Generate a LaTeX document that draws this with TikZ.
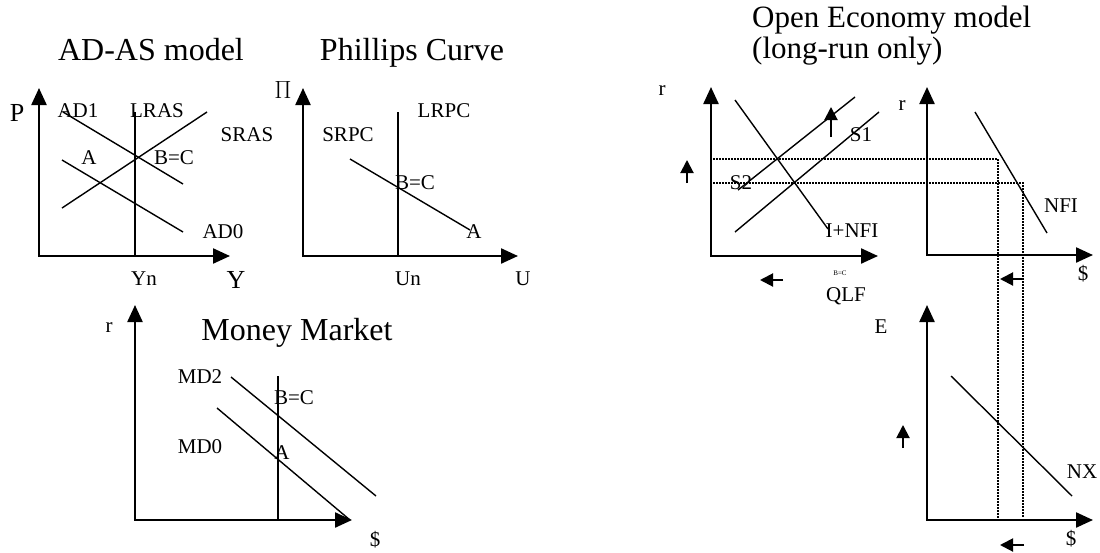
\documentclass[tikz,border=0pt]{standalone}
\usepackage{fontspec}
\setmainfont{Liberation Serif}
\usetikzlibrary{arrows.meta}

\begin{document}
\begin{tikzpicture}[
  x=1pt, y=-1pt,
  axes/.style={line width=2.3pt,
               {Triangle[length=17pt, width=15pt]}-{Triangle[length=17pt, width=15pt]}},
  econ/.style={line width=1.4pt},
  dots/.style={line width=1.2pt, dash pattern=on 1.5pt off 1.5pt},
  move/.style={line width=2pt, -{Triangle[length=13pt, width=13pt]}},
  lbl/.style={inner sep=0pt, font=\fontsize{21}{24}\selectfont},
  big/.style={inner sep=0pt, font=\fontsize{26}{30}\selectfont},
  ttl/.style={inner sep=0pt, anchor=base, font=\fontsize{32}{36}\selectfont},
]
\useasboundingbox (0,0) rectangle (1100,552);

% AD-AS model
\node[ttl] (adastitle) at (151,60) {AD-AS model};
\draw[axes] (39,88) |- (230,256);
\draw[econ] (135,112) -- (135,256);
\draw[econ] (62,208) -- (207,112);
\draw[econ] (63,112) -- (183,184);
\draw[econ] (62,160) -- (183,232);
\node[big] (p) at (17,113) {P};
\node[big] (y) at (236,280) {Y};
\node[lbl] (ad1) at (78,111) {AD1};
\node[lbl] (lras) at (157,111) {LRAS};
\node[lbl] (sras) at (247,135) {SRAS};
\node[lbl] (adA) at (89,158) {A};
\node[lbl] (adBC) at (174,158) {B=C};
\node[lbl] (ad0) at (223,232) {AD0};
\node[lbl] (yn) at (144,279) {Yn};

% Phillips curve
\node[ttl] (pctitle) at (412,60) {Phillips Curve};
\draw[axes] (303,88) |- (518,256);
\draw[econ] (398,112) -- (398,256);
\draw[econ] (350,159) -- (470,230);
\node[inner sep=0pt, font=\fontsize{24}{28}\selectfont] (pi) at (283,90) {$\Pi$};
\node[lbl] (lrpc) at (444,111) {LRPC};
\node[lbl] (srpc) at (348,135) {SRPC};
\node[lbl] (pcBC) at (415,183) {B=C};
\node[lbl] (pcA) at (474,232) {A};
\node[lbl] (un) at (408,279) {Un};
\node[lbl] (u) at (523,279) {U};

% money market
\node[ttl] (mmtitle) at (297,340) {Money Market};
\draw[axes] (135,305) |- (352,520);
\draw[econ] (278,376) -- (278,520);
\draw[econ] (231,377) -- (376,496);
\draw[econ] (217,408) -- (350,520);
\node[lbl] (mmr) at (109,328) {r};
\node[lbl] (md2) at (200,377) {MD2};
\node[lbl] (md0) at (200,447) {MD0};
\node[lbl] (mmBC) at (294,398) {B=C};
\node[lbl] (mmA) at (282,453) {A};
\node[lbl] (mmd) at (375,540) {\$};

% open economy: loanable funds
\node[ttl, anchor=base west, font=\fontsize{31}{34}\selectfont] (oetitle) at (752,27) {Open Economy model};
\node[ttl, anchor=base west, font=\fontsize{31}{34}\selectfont] (oesub) at (752,58) {(long-run only)};
\draw[axes] (711,87) |- (878,256);
\draw[econ] (738,190) -- (855,97);
\draw[econ] (735,232) -- (879,112);
\draw[econ] (735,100) -- (828,229);
\node[lbl] (lfr) at (662,91) {r};
\node[lbl] (s1) at (861,135) {S1};
\node[lbl] (s2) at (741,183) {S2};
\node[lbl] (inv) at (852,231) {I+NFI};
\node[inner sep=0pt, font=\fontsize{7}{8}\selectfont] (lfBC) at (840,273) {B=C};
\node[lbl] (qlf) at (846,296) {QLF};

% NFI panel
\draw[axes] (927,87) |- (1093,255);
\draw[econ] (975,112) -- (1047,233);
\node[lbl] (nfir) at (902,106) {r};
\node[lbl] (nfi) at (1061,206) {NFI};
\node[lbl] (nfid) at (1083,274) {\$};

% NX panel
\draw[axes] (927,305) |- (1093,520);
\draw[econ] (951,376) -- (1072,496);
\node[lbl] (e) at (881,327) {E};
\node[lbl] (nx) at (1082,472) {NX};
\node[lbl] (nxd) at (1071,539) {\$};

% dotted guides
\draw[dots] (713,159) -| (998,518);
\draw[dots] (713,183) -| (1023,518);

% shifts
\draw[move] (831,137) -- (831,107);
\draw[move] (687,183) -- (687,160);
\draw[move] (783,280) -- (760,280);
\draw[move] (1024,279) -- (1000,279);
\draw[move] (903,448) -- (903,425);
\draw[move] (1024,545) -- (1000,545);
\end{tikzpicture}
\end{document}
